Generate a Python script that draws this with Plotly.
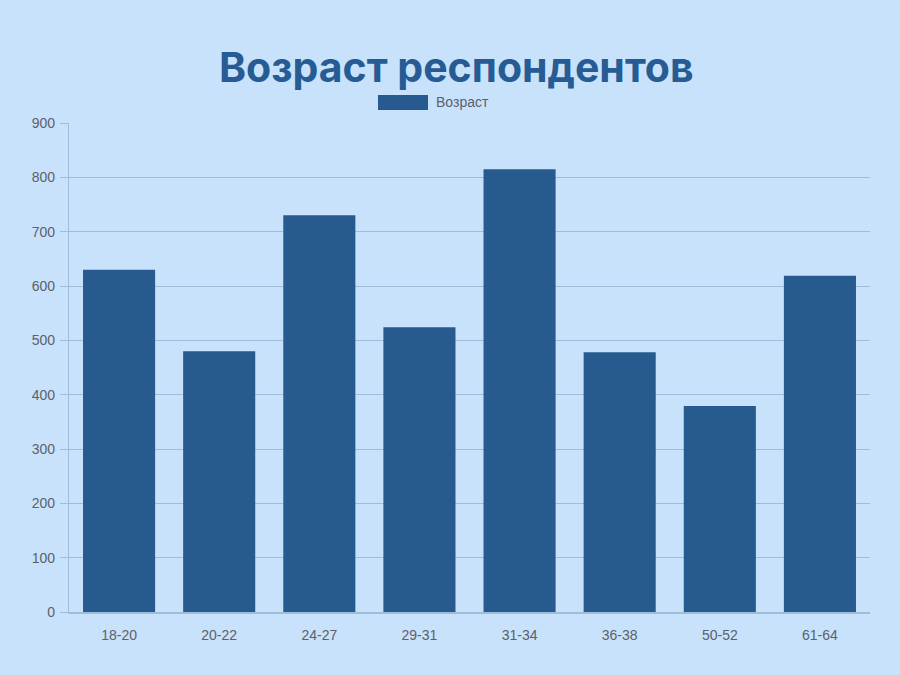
import plotly.graph_objects as go

# Age groups of respondents and number of people in each
age_groups = ["18-20", "20-22", "24-27", "29-31", "31-34", "36-38", "50-52", "61-64"]
counts = [630, 480, 730, 524, 815, 478, 379, 619]
series_name = "Возраст"
title_text = "Возраст респондентов"
y_ticks = [0, 100, 200, 300, 400, 500, 600, 700, 800, 900]

bg = "#c8e2fc"
bar_color = "#275b8f"
grid_color = "#9fbcdb"
tick_font = dict(family="Liberation Sans, Arial", size=14, color="#5a616b")

fig = go.Figure()
fig.add_trace(go.Bar(
    x=age_groups,
    y=counts,
    name=series_name,
    marker=dict(color=bar_color, line=dict(width=0)),
    showlegend=False,
))

fig.update_layout(
    width=900,
    height=675,
    paper_bgcolor=bg,
    plot_bgcolor=bg,
    margin=dict(l=69, r=30, t=123, b=63),
    bargap=0.28,
    title=dict(
        text=title_text,
        x=0.507,
        xanchor="center",
        y=0.9,
        yanchor="middle",
        font=dict(family="Inter, sans-serif", size=41, color="#265c93", weight=700),
    ),
    xaxis=dict(
        showgrid=False,
        showline=True,
        linecolor=grid_color,
        linewidth=1.5,
        ticks="",
        tickfont=tick_font,
        ticklabelstandoff=9,
    ),
    yaxis=dict(
        range=[0, 900],
        tickvals=y_ticks,
        showgrid=True,
        gridcolor=grid_color,
        gridwidth=1.2,
        zeroline=False,
        showline=True,
        linecolor=grid_color,
        linewidth=1.2,
        ticks="outside",
        ticklen=8,
        tickcolor=grid_color,
        tickfont=tick_font,
        ticklabelstandoff=2,
    ),
)

# Legend swatch and label above the plot area
fig.add_shape(
    type="rect", xref="paper", yref="paper",
    x0=(378 - 69) / 801, x1=(428 - 69) / 801,
    y0=(612 - 110) / 489, y1=(612 - 95) / 489,
    fillcolor=bar_color, line=dict(width=0),
)
fig.add_annotation(
    xref="paper", yref="paper",
    x=(434 - 69) / 801, y=(612 - 102) / 489,
    xanchor="left", yanchor="middle",
    text=series_name, showarrow=False,
    font=dict(family="Liberation Sans, Arial", size=14, color="#5a616b"),
)

fig.write_html("out.html")
